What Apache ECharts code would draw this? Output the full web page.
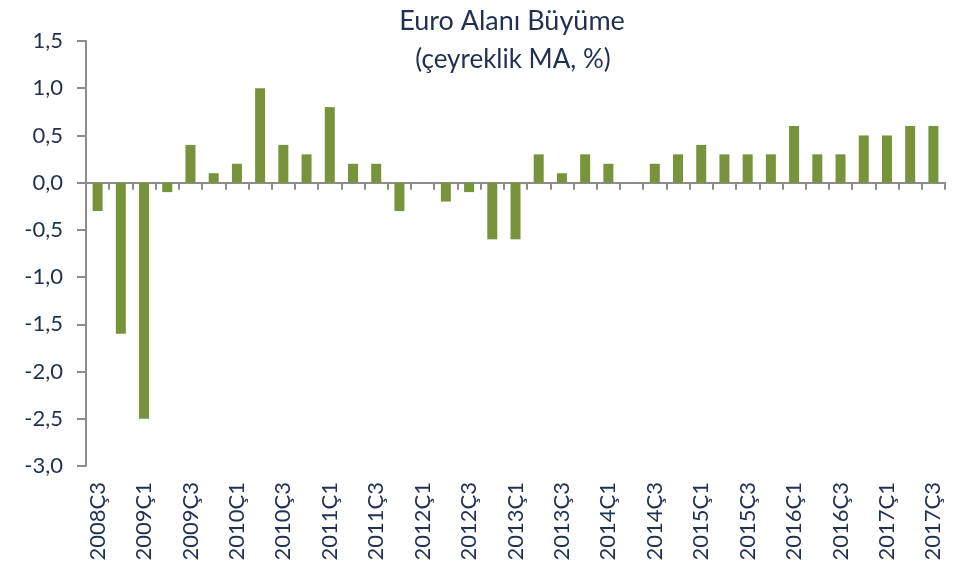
<!DOCTYPE html>
<html>
<head>
<meta charset="utf-8">
<script src="https://cdn.jsdelivr.net/npm/echarts@6/dist/echarts.min.js"></script>
<style>html,body{margin:0;padding:0;background:#fff}</style>
</head>
<body>
<div id="chart" style="width:960px;height:568px"></div>
<script>
var quarters = [
  '2008Ç3', '2008Ç4', '2009Ç1', '2009Ç2', '2009Ç3', '2009Ç4', '2010Ç1', '2010Ç2', '2010Ç3', '2010Ç4',
  '2011Ç1', '2011Ç2', '2011Ç3', '2011Ç4', '2012Ç1', '2012Ç2', '2012Ç3', '2012Ç4', '2013Ç1', '2013Ç2',
  '2013Ç3', '2013Ç4', '2014Ç1', '2014Ç2', '2014Ç3', '2014Ç4', '2015Ç1', '2015Ç2', '2015Ç3', '2015Ç4',
  '2016Ç1', '2016Ç2', '2016Ç3', '2016Ç4', '2017Ç1', '2017Ç2', '2017Ç3'
]
var growth = [
  -0.3, -1.6, -2.5, -0.1, 0.4, 0.1, 0.2, 1.0, 0.4, 0.3,
  0.8, 0.2, 0.2, -0.3, 0.0, -0.2, -0.1, -0.6, -0.6, 0.3,
  0.1, 0.3, 0.2, 0.0, 0.2, 0.3, 0.4, 0.3, 0.3, 0.3,
  0.6, 0.3, 0.3, 0.5, 0.5, 0.6, 0.6
]

var textColor = '#1f3050'
var axisGray = '#8c8c8c'
var font = 'Lato, "Open Sans", sans-serif'

var chart = echarts.init(document.getElementById('chart'))
chart.setOption({
  animation: false,
  title: [
    {
      text: 'Euro Alanı Büyüme',
      left: 507, top: 3, textAlign: 'center',
      textStyle: { color: textColor, fontFamily: font, fontSize: 27, fontWeight: 'normal' }
    },
    {
      text: '(çeyreklik MA, %)',
      left: 508, top: 42, textAlign: 'center',
      textStyle: { color: textColor, fontFamily: font, fontSize: 26, fontWeight: 'normal' }
    }
  ],
  grid: { left: 86, right: 15, top: 41, bottom: 102 },
  xAxis: [
    {
      type: 'category',
      data: quarters,
      axisLine: { onZero: true, lineStyle: { color: axisGray, width: 2 } },
      axisTick: { show: true, length: 7, interval: 0, lineStyle: { color: axisGray, width: 2 } },
      axisLabel: { show: false }
    },
    {
      type: 'category',
      data: quarters,
      position: 'bottom',
      axisLine: { show: false, onZero: false },
      axisTick: { show: false },
      axisLabel: {
        interval: 1, rotate: 90, margin: 16,
        color: textColor, fontFamily: font, fontSize: 22
      }
    }
  ],
  yAxis: {
    type: 'value',
    min: -3, max: 1.5, interval: 0.5,
    axisLine: { show: true, lineStyle: { color: axisGray, width: 2 } },
    axisTick: { show: true, length: 9, lineStyle: { color: axisGray, width: 2 } },
    splitLine: { show: false },
    axisLabel: {
      margin: 23,
      color: textColor, fontFamily: font, fontSize: 22,
      formatter: function (v) { return v.toFixed(1).replace('.', ',') }
    }
  },
  series: [
    {
      type: 'bar',
      xAxisIndex: 0,
      data: growth,
      barWidth: 10,
      itemStyle: { color: '#77933c' }
    }
  ]
})
</script>
</body>
</html>
